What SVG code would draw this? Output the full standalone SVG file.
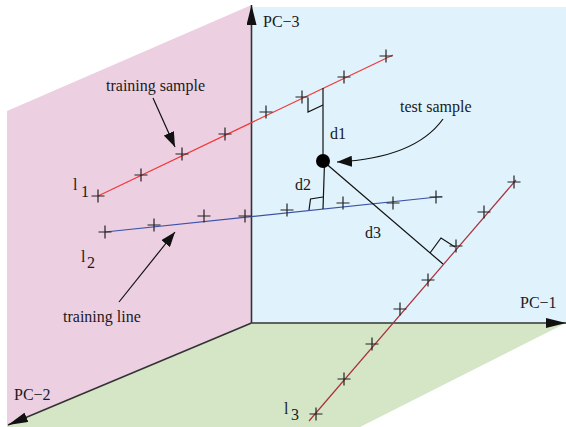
<svg xmlns="http://www.w3.org/2000/svg" width="566" height="427" viewBox="0 0 566 427">
<style>
text{font-family:"Liberation Serif","Times New Roman",serif;font-size:16px;fill:#1a1a1a}
.axis{stroke:#333;stroke-width:1.6;fill:none}
.pt{stroke:#222;stroke-width:1.2;fill:none}
.dl{stroke:#111;stroke-width:1.2;fill:none}
.ann{stroke:#111;stroke-width:1.2;fill:none}
</style>
<defs>
<marker id="ah" markerUnits="userSpaceOnUse" markerWidth="20" markerHeight="10" viewBox="0 -5 20 10" refX="20" refY="0" orient="auto"><path d="M0,-5 L20,0 L0,5 z" fill="#111"/></marker>
<marker id="aa" markerUnits="userSpaceOnUse" markerWidth="15" markerHeight="11" viewBox="0 -5.5 15 11" refX="15" refY="0" orient="auto"><path d="M0,-5.5 L15,0 L0,5.5 z" fill="#111"/></marker>
<path id="plus" d="M-6.5,0 H6.5 M0,-6.5 V6.5"/>
</defs>
<g id="planes">
<polygon points="7,111 251.5,5 251.5,323 7,427" fill="#EDCFE2"/>
<rect x="251.5" y="7" width="314.5" height="316" fill="#E0F2FB"/>
<polygon points="251.5,323 566,323 360,427 7,427 7,426" fill="#D4E6C5"/>
</g>
<g id="connectors">
<line class="axis" x1="251.5" y1="323" x2="251.5" y2="5" marker-end="url(#ah)"/>
<line class="axis" x1="251.5" y1="323" x2="566" y2="323" marker-end="url(#ah)"/>
<line class="axis" x1="251.5" y1="323" x2="8" y2="425" marker-end="url(#ah)"/>
<line x1="98" y1="196" x2="393" y2="55" stroke="#F03A3A" stroke-width="1.2"/>
<line x1="105" y1="232" x2="442" y2="196.5" stroke="#3A52A8" stroke-width="1.2"/>
<line x1="309" y1="421" x2="516" y2="180" stroke="#A8303A" stroke-width="1.2"/>
<line class="dl" x1="323" y1="161" x2="323" y2="88"/>
<polyline class="dl" points="308,98 308,112 323,105"/>
<line class="dl" x1="324.5" y1="163" x2="323" y2="209"/>
<polyline class="dl" points="309,210 310.5,199 323,197"/>
<line class="dl" x1="323" y1="161" x2="443" y2="264"/>
<polyline class="dl" points="430,253 441,238 455,247"/>
<line class="ann" x1="153" y1="98" x2="175" y2="147" marker-end="url(#aa)"/>
<line class="ann" x1="119" y1="302" x2="175" y2="232" marker-end="url(#aa)"/>
<path class="ann" d="M443,119 Q415,158 337,162" marker-end="url(#aa)"/>
</g>
<g id="l1-points" class="pt">
<use href="#plus" x="98" y="196"/><use href="#plus" x="141" y="175"/><use href="#plus" x="182" y="154"/><use href="#plus" x="225" y="134"/><use href="#plus" x="266" y="112"/><use href="#plus" x="302" y="97"/><use href="#plus" x="344" y="77"/><use href="#plus" x="386" y="56"/>
</g>
<g id="l2-points" class="pt">
<use href="#plus" x="105" y="232"/><use href="#plus" x="154" y="225"/><use href="#plus" x="204" y="216"/><use href="#plus" x="245" y="216"/><use href="#plus" x="287" y="210"/><use href="#plus" x="343" y="203"/><use href="#plus" x="393" y="203"/><use href="#plus" x="436" y="197"/>
</g>
<g id="l3-points" class="pt">
<use href="#plus" x="316" y="414"/><use href="#plus" x="344" y="379"/><use href="#plus" x="372" y="344"/><use href="#plus" x="400" y="309"/><use href="#plus" x="428" y="280"/><use href="#plus" x="456" y="246"/><use href="#plus" x="484" y="212"/><use href="#plus" x="514" y="182"/>
</g>
<g id="test-sample"><circle cx="323" cy="161" r="7" fill="#000"/></g>
<g id="labels">
<text x="263" y="27">PC−3</text>
<text x="520" y="308">PC−1</text>
<text x="14" y="400">PC−2</text>
<text x="106" y="91">training sample</text>
<text x="400" y="112">test sample</text>
<text x="63" y="322">training line</text>
<text x="330" y="139">d1</text>
<text x="295" y="190">d2</text>
<text x="365" y="238">d3</text>
<text x="73" y="190">l</text><text x="81" y="197">1</text>
<text x="81" y="262">l</text><text x="87" y="268">2</text>
<text x="284" y="414">l</text><text x="291" y="420">3</text>
</g>
</svg>
